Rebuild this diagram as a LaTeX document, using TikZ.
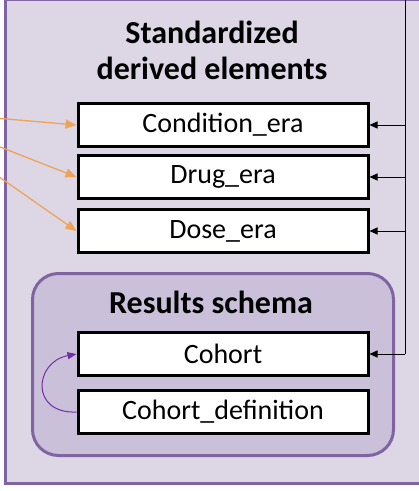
\documentclass[tikz,border=0pt]{standalone}
\usepackage{fontspec}
\setmainfont{Carlito}
\usetikzlibrary{arrows.meta}
\definecolor{outerfill}{HTML}{DDD7E5}
\definecolor{innerfill}{HTML}{CBC0DA}
\definecolor{purpleedge}{HTML}{8064A2}
\definecolor{orangearrow}{HTML}{F0A257}
\definecolor{loopcol}{HTML}{7030A0}
\begin{document}
\begin{tikzpicture}[x=1pt,y=-1pt,
  tablebox/.style={draw=black,line width=3pt,fill=white,minimum width=290pt,minimum height=43pt,inner sep=0pt,font=\fontsize{28}{30}\selectfont},
  titletext/.style={font=\fontsize{32}{36}\selectfont\bfseries,align=center},
  blackarrow/.style={draw=black,line width=1pt,-{Triangle[length=8pt,width=7pt]}},
  orangeline/.style={draw=orangearrow,line width=1.3pt,-{Triangle[length=11pt,width=9pt]}}]
\useasboundingbox (0,0) rectangle (419,491);
\clip (0,0) rectangle (419,491);
\node[draw=purpleedge,line width=3pt,fill=outerfill,minimum width=440pt,minimum height=484pt,inner sep=0pt,anchor=north west] (outer) at (4,-2) {};
\node[titletext] (title) at (212,50) {Standardized\\derived elements};
\node[tablebox] (cond) at (223,125) {Condition\_era};
\node[tablebox] (drug) at (223,177) {Drug\_era};
\node[tablebox] (dose) at (223,231) {Dose\_era};
\node[draw=purpleedge,line width=3pt,fill=innerfill,rounded corners=26pt,minimum width=361pt,minimum height=182pt,inner sep=0pt,anchor=north west] (results) at (31,272) {};
\node[titletext] (rtitle) at (211,302) {Results schema};
\node[tablebox] (cohort) at (223,354) {Cohort};
\node[tablebox] (cdef) at (223,412) {Cohort\_definition};
\coordinate (vtop) at (405,-5);
\coordinate (vbot) at (405,354);
\draw[black,line width=1pt] (vtop) -- (vbot);
\draw[blackarrow] (405,125) -- (cond.east);
\draw[blackarrow] (405,177) -- (drug.east);
\draw[blackarrow] (405,231) -- (dose.east);
\draw[blackarrow] (vbot) -- (cohort.east);
\coordinate (o1) at (-5,118);
\coordinate (o2) at (-5,145);
\coordinate (o3) at (-5,174);
\draw[orangeline] (o1) -- (cond.west);
\draw[orangeline] (o2) -- (drug.west);
\draw[orangeline] (o3) -- (dose.west);
\draw[loopcol,line width=1pt,-{Triangle[length=9pt,width=7pt]}] (cdef.west) .. controls (30,414) and (34,362) .. (cohort.west);
\end{tikzpicture}
\end{document}
